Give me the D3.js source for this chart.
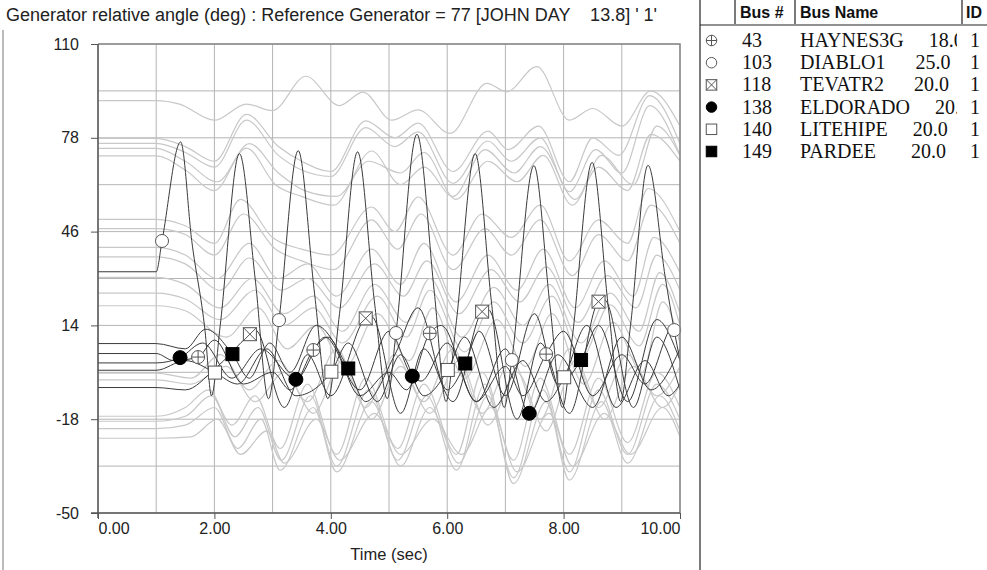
<!DOCTYPE html>
<html>
<head>
<meta charset="utf-8">
<script src="https://cdn.jsdelivr.net/npm/d3@7"></script>
<style>
  body { margin: 0; background: #fff; }
  svg { font-family: "Liberation Sans", Arial, sans-serif; }
</style>
</head>
<body>
<svg id="chart" width="987" height="570"></svg>
<script>
// Settings / labels
var title = "Generator relative angle (deg) : Reference Generator = 77 [JOHN DAY    13.8] ' 1'"
var xLabel = 'Time (sec)'
var xTickLabels = [0, 2, 4, 6, 8, 10]
var yTickLabels = [110, 78, 46, 14, -18, -50]

// Legend table
var busNums = [43, 103, 118, 138, 140, 149]
var busNames = ['HAYNES3G', 'DIABLO1', 'TEVATR2', 'ELDORADO', 'LITEHIPE', 'PARDEE']
var busKv = [18.0, 25.0, 20.0, 20.0, 20.0, 20.0]
var busIds = ['1', '1', '1', '1', '1', '1']
var busSymbols = ['oplus', 'circle', 'xsquare', 'dot', 'square', 'fsquare']

// Highlighted generators, [time, angle]
var haynes = [[0,4.4],[1,4.4],[1.3,2],[1.72,3.2],[2.0,9],[2.5,-6],[3.0,-2],[3.3,-8],[3.7,5.6],[3.95,10],[4.5,-10],[5.0,-2],[5.3,-8],[5.7,11.3],[5.9,14],[6.5,-12],[7.0,0],[7.3,-10],[7.7,4.2],[8.0,12],[8.5,-10],[9.0,4],[9.4,-6],[9.9,14],[10,12]]
var diablo = [[0,32.3],[1,32.3],[1.1,42.8],[1.42,76.6],[1.61,43],[1.84,12],[1.95,-10],[2.1,14],[2.43,72.6],[2.7,30],[2.93,-11],[3.11,15.8],[3.44,73.6],[3.72,25],[3.95,-11],[4.15,18],[4.46,73.2],[4.75,22],[4.97,-11],[5.12,11.4],[5.48,79.2],[5.78,25],[5.98,-12],[6.15,14],[6.48,72.6],[6.76,22],[6.98,-14],[7.11,2.2],[7.49,68.5],[7.77,20],[7.98,-14],[8.15,10],[8.49,69.6],[8.77,20],[8.98,-12],[9.15,14],[9.45,68.6],[9.75,30],[9.9,12.4],[10,2]]
var tevatr = [[0,-7.2],[1,-7.2],[1.5,-8],[2.0,-1],[2.61,11],[2.7,12.5],[3.2,-14],[3.6,4],[4.0,-10],[4.6,16.4],[4.7,17],[5.2,-16],[5.6,6],[6.1,-12],[6.6,18.7],[6.7,19.5],[7.2,-18],[7.6,8],[8.1,-16],[8.6,22.1],[8.7,22.8],[9.2,-14],[9.6,10],[10,-8]]
var eldorado = [[0,1.2],[1,1.2],[1.41,3.0],[1.8,8],[2.3,-4],[2.8,6],[3.4,-4.4],[3.9,10],[4.5,-8],[5.0,12],[5.4,-3.3],[5.55,-5],[6.0,8],[6.5,-12],[7.0,6],[7.41,-16],[7.9,4],[8.5,-14],[9.0,10],[9.5,-8],[10,6]]
var litehipe = [[0,-1.3],[1,-1.3],[1.5,2],[2.01,-2.1],[2.4,-6],[2.9,6],[3.4,-10],[4.01,-1.8],[4.3,8],[4.8,-12],[5.2,4],[5.6,-10],[6.01,-1.2],[6.3,10],[6.8,-14],[7.3,2],[7.7,-12],[8.01,-3.7],[8.4,14],[8.9,-14],[9.4,2],[9.8,-10],[10,-6]]
var pardee = [[0,7.8],[1,7.8],[1.5,6],[1.85,12.7],[2.31,4.2],[2.6,-4],[2.95,8],[3.3,-2],[3.75,14],[4.3,-0.7],[4.6,-12],[5.1,4],[5.5,20],[6.0,-8],[6.31,1.0],[6.55,12],[7.0,-10],[7.5,18],[7.9,-6],[8.3,2.2],[8.6,14],[9.1,-12],[9.6,16],[10,2]]

// Marker positions on each highlighted curve
var haynesMarks = [[1.72,3.2],[3.7,5.6],[5.7,11.3],[7.7,4.2]]
var diabloMarks = [[1.1,42.8],[3.11,15.8],[5.12,11.4],[7.11,2.2],[9.9,12.4]]
var tevatrMarks = [[2.61,11],[4.6,16.4],[6.6,18.7],[8.6,22.1]]
var eldoradoMarks = [[1.41,3.0],[3.4,-4.4],[5.4,-3.3],[7.41,-16]]
var litehipeMarks = [[2.01,-2.1],[4.01,-1.8],[6.01,-1.2],[8.01,-3.7]]
var pardeeMarks = [[2.31,4.2],[4.3,-0.7],[6.31,1.0],[8.3,2.2]]

// Other generators (grey), [time, angle]
var grayU1 = [[0,90.7],[1,90.7],[1.4,89.5],[2.0,84],[2.55,89.5],[3.0,87.3],[3.57,99],[4.15,89],[4.55,93.6],[5.05,84],[5.5,87.5],[6.05,79.5],[6.68,96.6],[7.02,93.7],[7.54,102.3],[8.1,84],[8.5,88],[9.0,82],[9.5,94],[10,82]]
var grayU2 = [[0,77.8],[1,77.8],[1.5,75],[2.0,70],[2.55,86],[3.1,75],[3.5,70],[4.0,66.5],[4.6,83.8],[5.1,78],[5.5,83],[6.1,66.5],[6.7,80.3],[7.05,74],[7.57,82],[8.1,63],[8.5,78],[8.95,72],[9.48,92.4],[10,76]]
var grayU3 = [[0,76.1],[1,76.1],[1.5,73],[2.0,68],[2.55,84],[3.1,72],[3.5,67],[4.0,64.8],[4.6,81.5],[5.1,75],[5.5,80],[6.1,62.5],[6.7,76.9],[7.1,70],[7.6,78],[8.1,59.6],[8.55,74],[9.0,66],[9.48,89],[10,72]]
var grayU4 = [[0,74.4],[1,74.4],[1.5,70],[2.05,63],[2.6,76],[3.1,66],[3.55,60],[4.1,58],[4.65,70],[5.2,66],[5.6,73],[6.15,57],[6.7,70],[7.2,63],[7.65,72],[8.15,55],[8.6,68],[9.1,60],[9.5,79.2],[10,70]]
var grayU5 = [[0,71.8],[1,71.8],[1.5,67],[2.0,60],[2.55,74.5],[3.05,62],[3.5,58],[4.05,55],[4.7,73.5],[5.2,62],[5.6,68],[6.1,58],[6.65,74],[7.15,66],[7.6,75],[8.2,57],[8.65,72],[9.2,62],[9.6,82],[10,72]]
var grayM1 = [[0,50.2],[1,50.2],[1.5,48],[2.0,42],[2.45,57],[3.0,44],[3.5,40],[4.0,38],[4.7,54.4],[5.1,46],[5.5,57.8],[6.1,38],[6.6,52],[7.1,44],[7.6,55],[8.1,36],[8.6,50],[9.1,42],[9.45,60.7],[10,46]]
var grayM2 = [[0,47],[1,47],[1.5,45],[2.0,38],[2.5,52],[3.05,40],[3.5,36],[4.05,33],[4.7,50],[5.15,40],[5.55,52],[6.1,33],[6.65,47],[7.1,38],[7.6,50],[8.15,31],[8.6,45],[9.1,36],[9.5,55],[10,42]]
var grayM3 = [[0,40.6],[1,40.6],[1.5,38],[2.05,30],[2.6,42],[3.1,30],[3.6,35],[4.1,24],[4.7,40],[5.2,28],[5.6,42],[6.15,22],[6.7,38],[7.2,26],[7.65,40],[8.2,20],[8.7,36],[9.2,24],[9.55,44],[10,32]]
var grayM4 = [[0,37.4],[1,37.4],[1.5,35],[2.1,26],[2.6,37],[3.15,26],[3.6,30],[4.15,20],[4.75,35],[5.25,24],[5.65,36],[6.2,18],[6.75,33],[7.25,22],[7.7,34],[8.25,15],[8.75,31],[9.25,20],[9.6,38],[10,26]]
var grayM5 = [[0,30.4],[1,30.4],[1.5,28],[2.1,20],[2.65,30],[3.2,18],[3.7,24],[4.2,12],[4.75,28],[5.3,15],[5.7,30],[6.25,10],[6.8,27],[7.3,14],[7.75,28],[8.3,8],[8.8,25],[9.3,12],[9.65,32],[10,18]]
var grayM6 = [[0,25],[1,25],[1.5,23],[2.1,16],[2.7,26],[3.2,14],[3.7,20],[4.2,8],[4.8,24],[5.3,10],[5.7,26],[6.3,5],[6.8,22],[7.3,8],[7.8,24],[8.3,3],[8.8,21],[9.3,7],[9.7,28],[10,14]]
var grayM7 = [[0,20.7],[1,20.7],[1.5,19],[2.2,10],[2.75,20],[3.25,6],[3.75,14],[4.25,0],[4.8,18],[5.35,2],[5.75,20],[6.3,-4],[6.85,16],[7.35,0],[7.8,18],[8.35,-6],[8.85,15],[9.35,-2],[9.7,22],[10,8]]
var grayN1 = [[0,-2.3],[1,-2.3],[1.6,-4],[2.1,4],[2.6,-8],[3.1,2],[3.6,-12],[4.1,6],[4.6,-14],[5.1,4],[5.6,-12],[6.1,6],[6.6,-16],[7.1,2],[7.6,-18],[8.1,6],[8.6,-14],[9.1,4],[9.6,-10],[10,0]]
var grayN2 = [[0,-4.6],[1,-4.6],[1.6,-6],[2.2,0],[2.7,-12],[3.2,-2],[3.7,-16],[4.2,2],[4.7,-18],[5.2,0],[5.7,-16],[6.2,2],[6.7,-20],[7.2,-2],[7.7,-22],[8.2,2],[8.7,-18],[9.2,0],[9.7,-14],[10,-6]]
var grayL1 = [[0,-17],[1,-17],[1.5,-14],[1.9,-8],[2.3,-20],[2.7,-10],[3.13,-28],[3.6,-6],[4.1,-30],[4.6,-4],[5.15,-28],[5.6,-6],[6.16,-30],[6.6,-2],[7.14,-32],[7.6,-4],[8.1,-30],[8.6,-4],[9.1,-26],[9.6,-2],[10,-14]]
var grayL2 = [[0,-18.7],[1,-18.7],[1.5,-17],[1.95,-10],[2.35,-24],[2.75,-14],[3.15,-32],[3.65,-10],[4.1,-34],[4.65,-8],[5.15,-32],[5.65,-10],[6.16,-35.4],[6.65,-6],[7.14,-38],[7.65,-8],[8.1,-36],[8.6,-8],[9.1,-30],[9.6,-6],[10,-18]]
var grayL3 = [[0,-21.2],[1,-21.2],[1.5,-20],[2.0,-14],[2.4,-28],[2.8,-18],[3.13,-35.4],[3.7,-14],[4.1,-36],[4.7,-12],[5.2,-34],[5.7,-14],[6.2,-33],[6.7,-10],[7.14,-40],[7.7,-12],[8.1,-38.8],[8.65,-12],[9.1,-33],[9.65,-10],[10,-22]]
var grayL4 = [[0,-24.5],[1,-24.5],[1.6,-24],[2.05,-18],[2.45,-30],[2.9,-22],[3.2,-33],[3.75,-18],[4.15,-32],[4.75,-16],[5.2,-30],[5.75,-18],[6.25,-30],[6.75,-14],[7.2,-36],[7.75,-16],[8.15,-34],[8.7,-16],[9.15,-30],[9.7,-14],[10,-24]]

var grayCurves = [grayU1, grayU2, grayU3, grayU4, grayU5, grayM1, grayM2, grayM3, grayM4, grayM5, grayM6, grayM7, grayN1, grayN2, grayL1, grayL2, grayL3, grayL4]
// same order as the legend rows
var blackCurves = [haynes, diablo, tevatr, eldorado, litehipe, pardee]
var blackMarks = [haynesMarks, diabloMarks, tevatrMarks, eldoradoMarks, litehipeMarks, pardeeMarks]

// The svg
var svg = d3.select('#chart')
var plotLeft = 98, plotRight = 680, plotTop = 44, plotBottom = 513

var x = d3.scaleLinear().domain([0, 10]).range([plotLeft, plotRight])
var y = d3.scaleLinear().domain([-50, 110]).range([plotBottom, plotTop])

// frame line on far left
svg.append('line')
  .attr('x1', 3).attr('x2', 3).attr('y1', 30).attr('y2', 570)
  .attr('stroke', '#777').attr('stroke-width', 1)

// Title
svg.append('text')
  .attr('x', 6).attr('y', 21)
  .attr('font-size', 18)
  .attr('fill', '#222')
  .style('white-space', 'pre')
  .text(title)

svg.append('defs').append('clipPath').attr('id', 'plot-clip')
  .append('rect')
  .attr('x', plotLeft).attr('y', plotTop)
  .attr('width', plotRight - plotLeft).attr('height', plotBottom - plotTop)

// Grid
var grid = svg.append('g').attr('stroke', '#b4b4b4').attr('stroke-width', 1)
grid.selectAll('line.v')
  .data(x.ticks(10))
  .enter().append('line')
  .attr('x1', d => x(d)).attr('x2', d => x(d))
  .attr('y1', plotTop).attr('y2', plotBottom)
grid.selectAll('line.h')
  .data(d3.range(-50, 111, 16))
  .enter().append('line')
  .attr('x1', plotLeft).attr('x2', plotRight)
  .attr('y1', d => y(d)).attr('y2', d => y(d))

// Curves
var line = d3.line()
  .x(d => x(d[0]))
  .y(d => y(d[1]))
  .curve(d3.curveMonotoneX)

var curves = svg.append('g').attr('clip-path', 'url(#plot-clip)').attr('fill', 'none')

curves.selectAll('path.gray')
  .data(grayCurves)
  .enter().append('path')
  .attr('d', line)
  .attr('stroke', '#c8c8c8')
  .attr('stroke-width', 1.2)

curves.selectAll('path.black')
  .data(blackCurves)
  .enter().append('path')
  .attr('d', line)
  .attr('stroke', '#3a3a3a')
  .attr('stroke-width', 1)

// symbols
function drawSymbol(g, type, s) {
  var h = s / 2
  if (type === 'circle' || type === 'oplus' || type === 'dot') {
    g.append('circle').attr('r', h)
      .attr('fill', type === 'dot' ? '#000' : '#fff')
      .attr('stroke', type === 'dot' ? '#000' : '#555')
      .attr('stroke-width', 1)
    if (type === 'oplus') {
      g.append('line').attr('x1', -h).attr('x2', h).attr('stroke', '#555')
      g.append('line').attr('y1', -h).attr('y2', h).attr('stroke', '#555')
    }
  } else {
    g.append('rect').attr('x', -h).attr('y', -h).attr('width', s).attr('height', s)
      .attr('fill', type === 'fsquare' ? '#000' : '#fff')
      .attr('stroke', type === 'fsquare' ? '#000' : '#555')
      .attr('stroke-width', 1)
    if (type === 'xsquare') {
      g.append('line').attr('x1', -h).attr('y1', -h).attr('x2', h).attr('y2', h).attr('stroke', '#555')
      g.append('line').attr('x1', -h).attr('y1', h).attr('x2', h).attr('y2', -h).attr('stroke', '#555')
    }
  }
}

var markerLayer = svg.append('g')
blackMarks.forEach(function (marks, i) {
  marks.forEach(function (m) {
    var g = markerLayer.append('g')
      .attr('transform', 'translate(' + x(m[0]) + ',' + y(m[1]) + ')')
    drawSymbol(g, busSymbols[i], busSymbols[i] === 'dot' ? 14 : 13)
  })
})

// Plot border (top and right)
svg.append('path')
  .attr('d', 'M' + plotLeft + ',' + plotTop + 'H' + plotRight + 'V' + plotBottom)
  .attr('fill', 'none').attr('stroke', '#888').attr('stroke-width', 1.5)

// Axes
var yAxis = d3.axisLeft(y)
  .tickValues(yTickLabels)
  .tickSize(7).tickSizeOuter(0).tickPadding(12)
  .tickFormat(d => String(d))
var xAxis = d3.axisBottom(x)
  .tickValues(xTickLabels)
  .tickSize(6).tickSizeOuter(0).tickPadding(4)
  .tickFormat(d => d.toFixed(2))

var gy = svg.append('g').attr('transform', 'translate(' + plotLeft + ',0)').call(yAxis)
var gx = svg.append('g').attr('transform', 'translate(0,' + plotBottom + ')').call(xAxis)
;[gx, gy].forEach(function (g) {
  g.selectAll('text').attr('font-size', 16).attr('fill', '#222')
    .attr('font-family', '"Liberation Sans", Arial, sans-serif')
  g.selectAll('line').attr('stroke', '#555')
  g.select('.domain').attr('stroke', '#555').attr('stroke-width', 1.5)
})
// first label sits right of its tick, last one left of it
gx.selectAll('.tick text')
  .attr('text-anchor', (d, i, n) => i === 0 ? 'start' : (i === n.length - 1 ? 'end' : 'middle'))
gy.select('.domain').attr('d', 'M0,' + (plotTop) + 'V' + (plotBottom + 5))
gx.select('.domain').attr('d', 'M' + (plotLeft - 7) + ',0H' + plotRight)

svg.append('text')
  .attr('x', (plotLeft + plotRight) / 2).attr('y', 560)
  .attr('text-anchor', 'middle')
  .attr('font-size', 16.5).attr('fill', '#222')
  .text(xLabel)

// Legend table on the right
var legend = svg.append('g')
legend.append('line').attr('x1', 700).attr('x2', 700).attr('y1', 0).attr('y2', 570)
  .attr('stroke', '#222').attr('stroke-width', 1.2)
legend.append('line').attr('x1', 700).attr('x2', 987).attr('y1', 25).attr('y2', 25)
  .attr('stroke', '#222').attr('stroke-width', 1.2)
;[735, 795, 962].forEach(function (cx) {
  legend.append('line').attr('x1', cx).attr('x2', cx).attr('y1', 0).attr('y2', 24)
    .attr('stroke', '#222').attr('stroke-width', 1.2)
})
var headers = [['Bus #', 740], ['Bus Name', 800], ['ID', 966]]
headers.forEach(function (h) {
  legend.append('text').attr('x', h[1]).attr('y', 18)
    .attr('font-size', 16).attr('font-weight', 'bold').attr('fill', '#111')
    .text(h[0])
})

// clip for the name column (row-local coordinates)
legend.append('defs').append('clipPath').attr('id', 'name-clip')
  .append('rect').attr('x', 796).attr('y', -22).attr('width', 161).attr('height', 30)

var rows = legend.selectAll('g.row')
  .data(busNums)
  .enter().append('g')
  .attr('transform', (d, i) => 'translate(0,' + (47 + i * 22.2) + ')')
  .style('font-family', '"Liberation Serif", "Times New Roman", serif')
  .style('font-size', '20px')
  .attr('fill', '#111')

rows.each(function (d, i) {
  var g = d3.select(this)
  var sg = g.append('g').attr('transform', 'translate(711.5,-6.5)')
  drawSymbol(sg, busSymbols[i], 10.5)
  g.append('text').attr('x', 742).text(d)
  g.append('g').attr('clip-path', 'url(#name-clip)')
    .append('text').attr('x', 800)
    .style('white-space', 'pre')
    .text(busNames[i].padEnd(12, ' ') + ' ' + busKv[i].toFixed(1))
  g.append('text').attr('x', 970).text(busIds[i])
})
</script>
</body>
</html>
